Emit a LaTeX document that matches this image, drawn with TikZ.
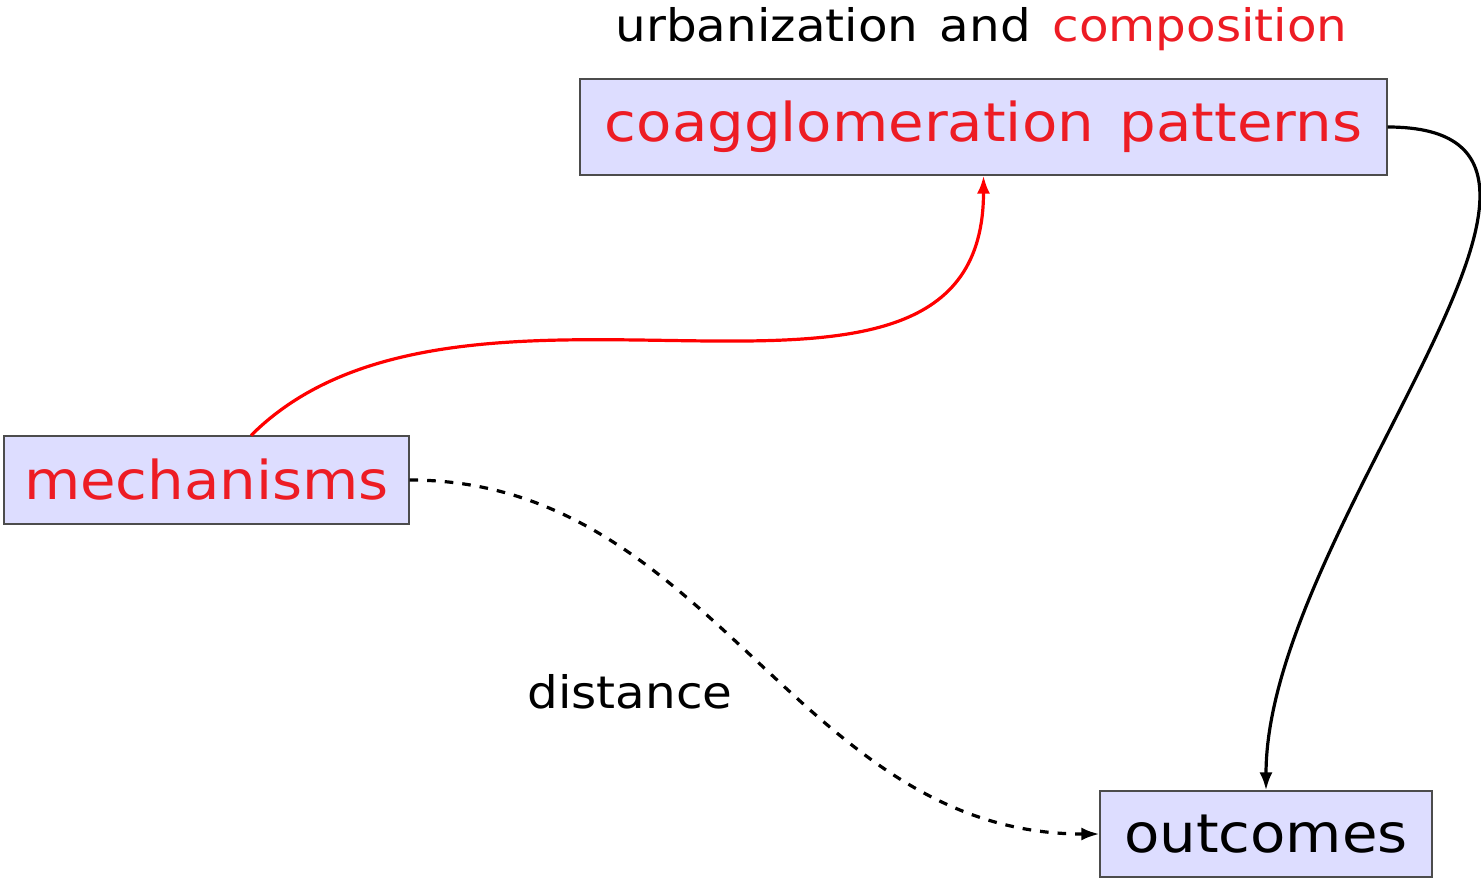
\documentclass[tikz,border=0pt]{standalone}
\usepackage{fontspec}
\setmainfont[FakeStretch=1.08,WordSpace=1.4]{DejaVu Sans}
\usetikzlibrary{arrows.meta}
\definecolor{boxfill}{RGB}{221,221,255}
\definecolor{txtred}{RGB}{237,28,36}
\definecolor{linered}{RGB}{255,0,0}
\begin{document}
\begin{tikzpicture}[x=0.5pt,y=0.5pt,
  box/.style={draw=black!70, line width=0.6pt, fill=boxfill, inner sep=0pt},
  bigtext/.style={font=\fontsize{26.75}{30}\selectfont},
  smalltext/.style={font=\fontsize{22.4}{26}\selectfont},
  conn/.style={line width=1.6pt, -{Latex[length=9pt,width=6.5pt]}},
  dashline/.style={dash pattern=on 4.3pt off 4.5pt}]
\useasboundingbox (0,0) rectangle (1481,-878);
\node[box,bigtext,text=txtred,minimum width=202.5pt,minimum height=44pt] (mech) at (206.5,-480) {mechanisms};
\node[box,bigtext,text=txtred,minimum width=403.5pt,minimum height=48pt] (coag) at (983.5,-127) {coagglomeration patterns};
\node[box,bigtext,minimum width=166pt,minimum height=43pt] (out) at (1266,-834) {outcomes};
\node[smalltext,anchor=base] (urb) at (981.5,-41) {urbanization and \textcolor{txtred}{composition}};
\node[smalltext,anchor=base] (dist) at (630,-708) {distance};
\draw[conn,linered] (mech.45) to[out=45,in=-90] (coag.south);
\draw[conn] (coag.east) to[out=0,in=90] (out.north);
\draw[conn,dashline] (mech.east) to[out=0,in=180] (out.west);
\end{tikzpicture}
\end{document}
